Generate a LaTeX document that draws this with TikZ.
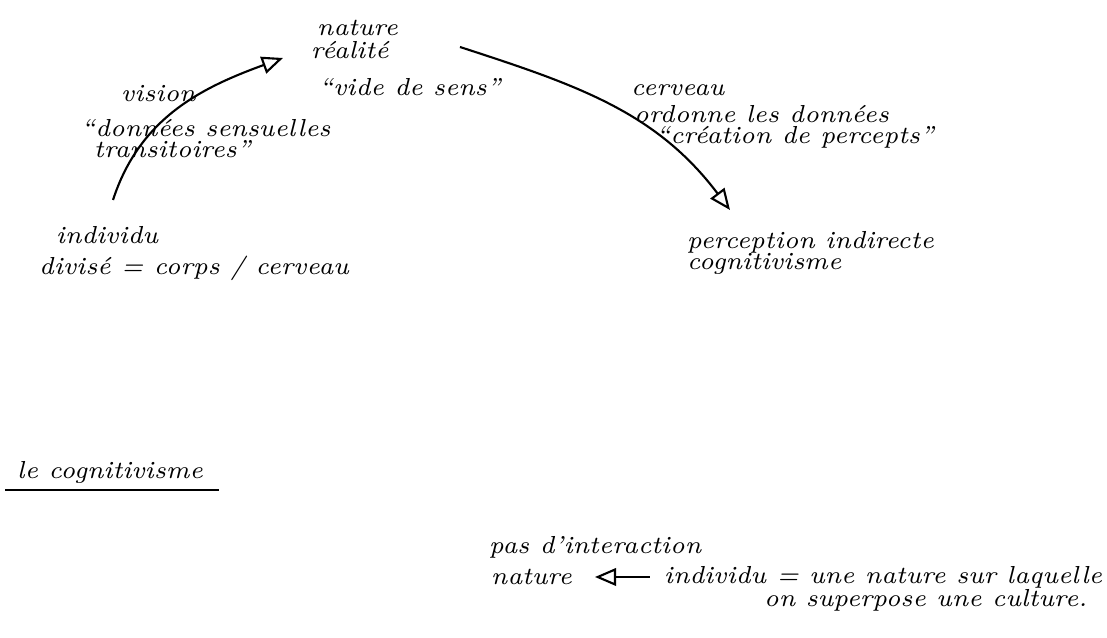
\documentclass[tikz,border=0pt]{standalone}
\usepackage{tikz}
\usetikzlibrary{calc,positioning,arrows.meta}
\tikzstyle{note}  = [inner sep=1pt, anchor=west, font=\fontsize{7}{8}\selectfont\itshape]
\tikzstyle{arrow} = [line width=0.6pt,-{Triangle[open,length=6pt,width=5pt]}]

\begin{document}
\begin{tikzpicture}[]
        \useasboundingbox (0,0) rectangle (11.07,6.38);

        \node[note] (nature) at (3.13,6.10) {nature};
        \node[note] (realite) at (3.07,5.88) {réalité};
        \node[note] (vide) at (3.15,5.51) {``vide de sens''};

        \node[note] (vision) at (1.17,5.44) {vision};
        \node[note] (donnees) at (0.77,5.10) {``données sensuelles};
        \node[note] (transit) at (0.90,4.89) {transitoires''};

        \node[note] (indiv) at (0.52,4.03) {individu};
        \node[note] (divise) at (0.35,3.70) {divisé = corps / cerveau};

        \node[note] (cerveau) at (6.27,5.48) {cerveau};
        \node[note] (ordonne) at (6.30,5.24) {ordonne les données};
        \node[note] (creation) at (6.52,5.01) {``création de percepts''};

        \node[note] (percep) at (6.83,3.96) {perception indirecte};
        \node[note] (cogni) at (6.83,3.74) {cognitivisme};

        \node[note] (titre) at (0.13,1.66) {le cognitivisme};
        \draw[line width=0.6pt] ([xshift=-0.08cm,yshift=-0.03cm]titre.south west) -- ([xshift=0.12cm,yshift=-0.03cm]titre.south east);

        \node[note] (pas) at (4.85,0.91) {pas d'interaction};
        \node[note] (nature2) at (4.87,0.61) {nature};
        \node[note] (indiv2) at (6.60,0.61) {individu = une nature sur laquelle};
        \node[note] (culture) at (7.60,0.38) {on superpose une culture.};

        \draw[arrow] ([xshift=0.61cm,yshift=0.35cm]indiv.west) to[out=72,in=200] ([xshift=-0.24cm,yshift=-0.08cm]realite.west);
        \draw[arrow] ([xshift=1.53cm,yshift=0.03cm]realite.west) to[out=-18,in=127] ([xshift=0.47cm,yshift=0.32cm]percep.west);
        \draw[arrow] ([xshift=-0.10cm]indiv2.west) -- ([xshift=1.08cm]nature2.west);
    \end{tikzpicture}
\end{document}
